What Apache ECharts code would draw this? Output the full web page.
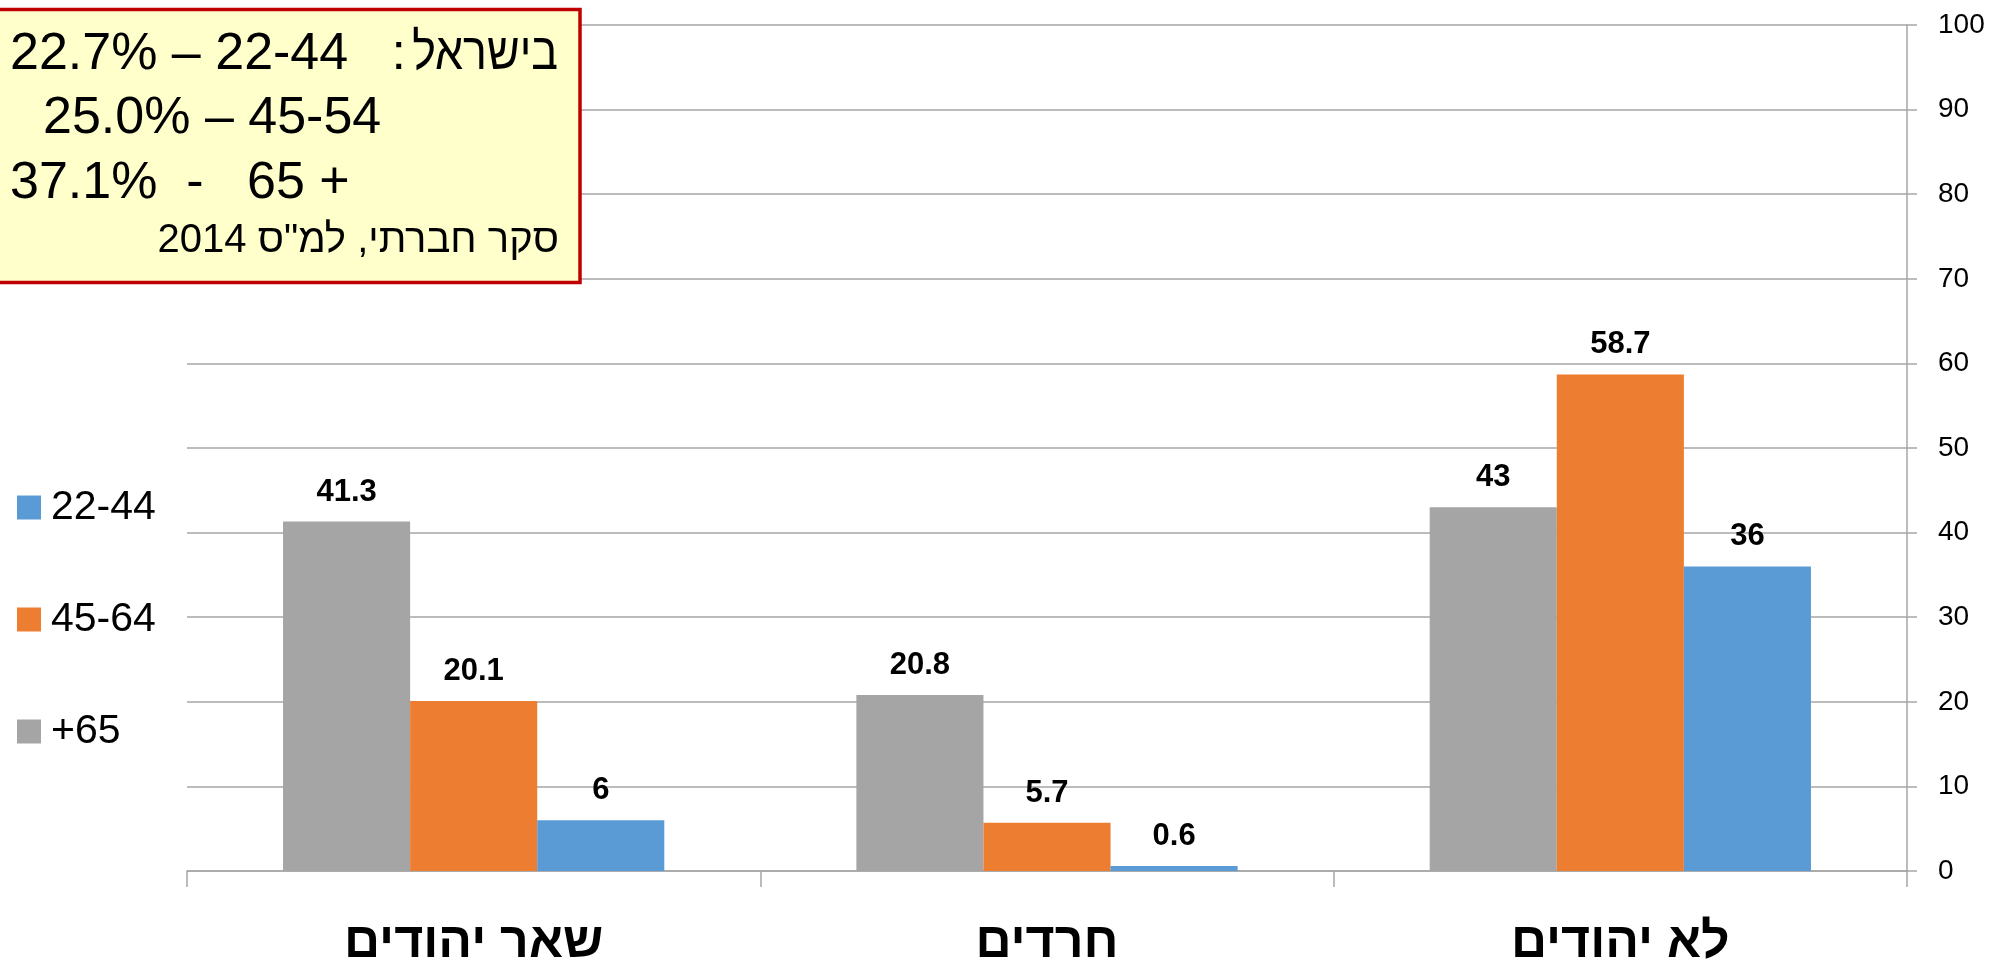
<!DOCTYPE html>
<html>
<head>
<meta charset="utf-8">
<script src="https://cdn.jsdelivr.net/npm/echarts@6/dist/echarts.min.js"></script>
<style>
html,body{margin:0;padding:0;background:#fff;}
#chart{width:1989px;height:959px;}
</style>
</head>
<body>
<div id="chart"></div>
<script>
// ---- data ----
const categories = ['שאר יהודים', 'חרדים', 'לא יהודים'];
const seriesNames = ['+65', '45-64', '22-44'];
const valuesOver65 = [41.3, 20.8, 43];
const values45to64 = [20.1, 5.7, 58.7];
const values22to44 = [6, 0.6, 36];
const legendOrder = ['22-44', '45-64', '+65'];
const yMin = 0, yMax = 100, yStep = 10;
// note box lines (written so that an LTR canvas shows them as in the original)
const noteLine1Numbers = '22.7% – 22-44   :';
const noteLine1Word = 'בישראל';
const noteLine2 = '25.0% – 45-54';
const noteLine3 = '37.1%  -   65 +';
const noteSource = '2014 סקר חברתי, למ"ס';

const colors = ['#A5A5A5', '#ED7D31', '#5B9BD5'];
const seriesValues = [valuesOver65, values45to64, values22to44];

const chart = echarts.init(document.getElementById('chart'));
const font = '"Liberation Sans", Arial, sans-serif';

chart.setOption({
  backgroundColor: '#ffffff',
  animation: false,
  grid: { left: 187, right: 82, top: 25, bottom: 88, containLabel: false, outerBoundsMode: 'none' },
  legend: {
    data: legendOrder,
    orient: 'vertical',
    left: 17,
    top: 487,
    padding: 0,
    itemWidth: 24,
    itemHeight: 24,
    itemGap: 71,
    icon: 'rect',
    textStyle: { fontFamily: font, fontSize: 41, color: '#000', padding: [0, 0, 0, 5] }
  },
  xAxis: {
    type: 'category',
    data: categories,
    axisLine: { lineStyle: { color: '#A6A6A6', width: 1.5 } },
    axisTick: { show: true, length: 16, lineStyle: { color: '#A6A6A6', width: 1.5 } },
    axisLabel: { fontFamily: font, fontWeight: 'bold', fontSize: 50, color: '#000', margin: 47 }
  },
  yAxis: {
    type: 'value',
    position: 'right',
    min: yMin, max: yMax, interval: yStep,
    axisLine: { show: true, lineStyle: { color: '#A6A6A6', width: 1.5 } },
    axisTick: { show: true, length: 10, lineStyle: { color: '#A6A6A6', width: 1.5 } },
    axisLabel: { fontFamily: font, fontSize: 28, color: '#000', margin: 31 },
    splitLine: { show: true, lineStyle: { color: '#A6A6A6', width: 1.5 } }
  },
  series: seriesNames.map((name, i) => ({
    name: name,
    type: 'bar',
    data: seriesValues[i],
    barGap: '0%',
    barCategoryGap: '33.5%',
    itemStyle: { color: colors[i] },
    label: {
      show: true,
      position: 'top',
      distance: 14,
      fontFamily: font,
      fontWeight: 'bold',
      fontSize: 31,
      color: '#000'
    }
  })),
  graphic: [
    {
      type: 'rect',
      z: 100,
      shape: { x: -10, y: 9.5, width: 590, height: 273 },
      style: { fill: '#FFFFCC', stroke: '#C00000', lineWidth: 3.5 }
    },
    {
      type: 'text', z: 101, x: 406, y: 55,
      style: { text: noteLine1Numbers, fontFamily: font, fontSize: 52, fill: '#000', align: 'right', verticalAlign: 'middle' }
    },
    {
      type: 'text', z: 101, x: 558, y: 55, scaleX: 0.86,
      style: { text: noteLine1Word, fontFamily: font, fontSize: 52, fill: '#000', align: 'right', verticalAlign: 'middle' }
    },
    {
      type: 'text', z: 101, x: 43, y: 119,
      style: { text: noteLine2, fontFamily: font, fontSize: 52, fill: '#000', align: 'left', verticalAlign: 'middle' }
    },
    {
      type: 'text', z: 101, x: 10, y: 184,
      style: { text: noteLine3, fontFamily: font, fontSize: 52, fill: '#000', align: 'left', verticalAlign: 'middle' }
    },
    {
      type: 'text', z: 101, x: 559, y: 241,
      style: { text: noteSource, fontFamily: font, fontSize: 40, fill: '#000', align: 'right', verticalAlign: 'middle' }
    }
  ]
});
</script>
</body>
</html>
